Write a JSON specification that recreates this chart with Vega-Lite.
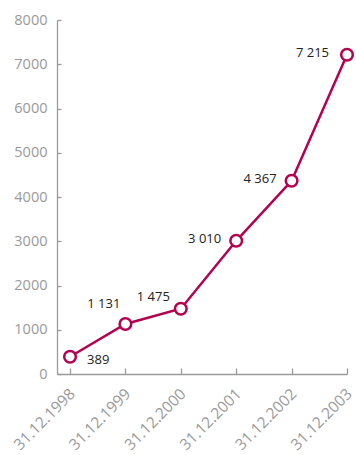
{
  "$schema": "https://vega.github.io/schema/vega-lite/v6.json",
  "width": 290,
  "height": 354,
  "autosize": "none",
  "padding": {"left": 57, "top": 20, "right": 9, "bottom": 81},
  "background": "white",
  "config": {
    "view": {"stroke": null},
    "font": "Open Sans"
  },
  "data": {"values": [
    {"year": 1998, "value": 389, "label": "389", "pos": "right"},
    {"year": 1999, "value": 1131, "label": "1 131", "pos": "above"},
    {"year": 2000, "value": 1475, "label": "1 475", "pos": "aboveleft"},
    {"year": 2001, "value": 3010, "label": "3 010", "pos": "left"},
    {"year": 2002, "value": 4367, "label": "4 367", "pos": "left"},
    {"year": 2003, "value": 7215, "label": "7 215", "pos": "leftfar"}
  ]},
  "encoding": {
    "x": {"field": "year", "type": "quantitative",
      "scale": {"domain": [1997.765, 2003.0], "zero": false, "nice": false},
      "axis": {"title": null, "grid": false, "values": [1998, 1999, 2000, 2001, 2002, 2003], "labelExpr": "'31.12.' + datum.value", "labelAngle": -45, "labelAlign": "right", "labelBaseline": "middle", "tickSize": -6, "labelPadding": 23, "labelOffset": 2, "labelFlush": false, "labelOverlap": false,
        "domainColor": "#9a9a9a", "tickColor": "#9a9a9a", "labelColor": "#9a9a9a", "labelFont": "Open Sans", "labelFontSize": 15.5, "domainWidth": 1.3, "tickWidth": 1.3}},
    "y": {"field": "value", "type": "quantitative",
      "scale": {"domain": [0, 8000], "nice": false},
      "axis": {"title": null, "grid": false, "values": [0, 1000, 2000, 3000, 4000, 5000, 6000, 7000, 8000], "format": "d", "tickSize": -4, "labelPadding": 14,
        "domainColor": "#9a9a9a", "tickColor": "#9a9a9a", "labelColor": "#9a9a9a", "labelFont": "Open Sans", "labelFontSize": 14.5, "domainWidth": 1.3, "tickWidth": 1.3}}
  },
  "layer": [
    {"mark": {"type": "line", "color": "#b5024f", "strokeWidth": 2.5}},
    {"mark": {"type": "point", "shape": "circle", "filled": true, "fill": "white", "stroke": "#b5024f", "strokeWidth": 2.5, "size": 135, "opacity": 1}},
    {"transform": [{"filter": "datum.pos == 'right'"}],
      "mark": {"type": "text", "align": "left", "baseline": "middle", "dx": 17, "dy": 3, "fontSize": 13, "color": "#222222"},
      "encoding": {"text": {"field": "label"}}},
    {"transform": [{"filter": "datum.pos == 'above'"}],
      "mark": {"type": "text", "align": "right", "baseline": "middle", "dx": -5, "dy": -20, "fontSize": 13, "color": "#222222"},
      "encoding": {"text": {"field": "label"}}},
    {"transform": [{"filter": "datum.pos == 'aboveleft'"}],
      "mark": {"type": "text", "align": "right", "baseline": "middle", "dx": -11, "dy": -12, "fontSize": 13, "color": "#222222"},
      "encoding": {"text": {"field": "label"}}},
    {"transform": [{"filter": "datum.pos == 'left'"}],
      "mark": {"type": "text", "align": "right", "baseline": "middle", "dx": -15, "dy": -2, "fontSize": 13, "color": "#222222"},
      "encoding": {"text": {"field": "label"}}},
    {"transform": [{"filter": "datum.pos == 'leftfar'"}],
      "mark": {"type": "text", "align": "right", "baseline": "middle", "dx": -18, "dy": -2, "fontSize": 13, "color": "#222222"},
      "encoding": {"text": {"field": "label"}}}
  ]
}
